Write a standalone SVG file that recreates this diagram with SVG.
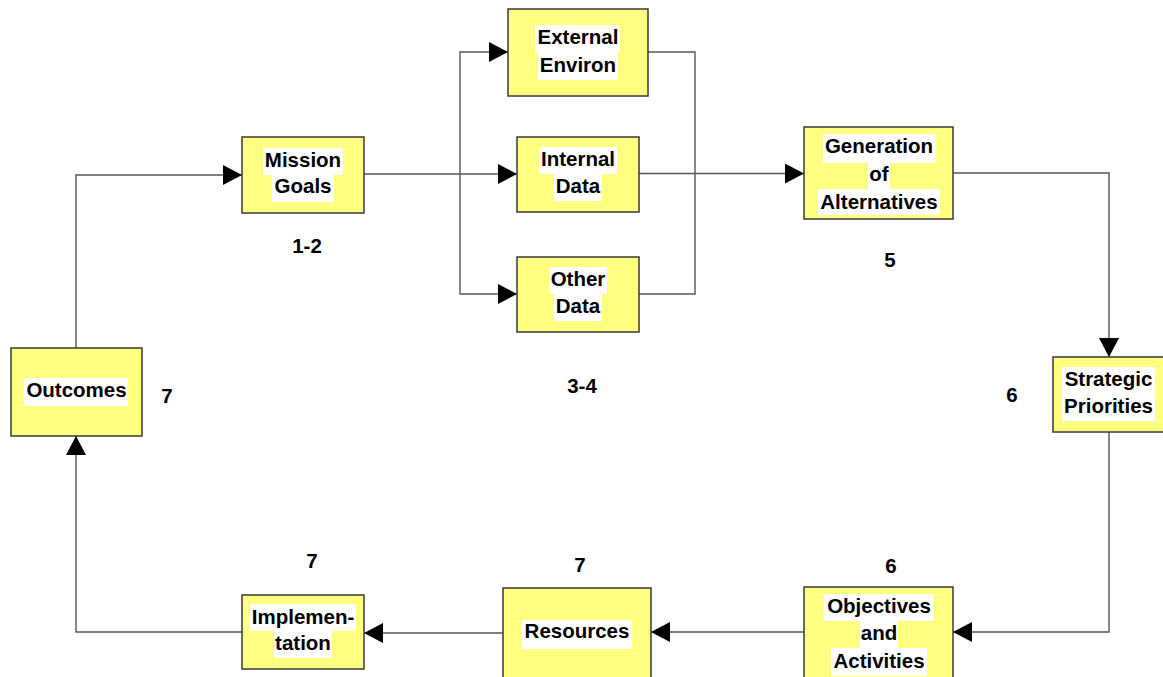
<svg xmlns="http://www.w3.org/2000/svg" width="1163" height="677" viewBox="0 0 1163 677">
<defs>
<style>
.box{fill:#FFFF80;stroke:#3a3a3a;stroke-width:1.5}
.hl{fill:#ffffff}
.t{font-family:"Liberation Sans",Arial,sans-serif;font-weight:bold;font-size:20.5px;fill:#000;text-anchor:middle}
.c{fill:none;stroke:#555;stroke-width:1.4}
</style>
<marker id="ah" viewBox="0 0 19 20" refX="19" refY="10" markerWidth="19" markerHeight="20" markerUnits="userSpaceOnUse" orient="auto">
<path d="M0,0 L19,10 L0,20 Z" fill="#000"/>
</marker>
</defs>
<rect width="1163" height="677" fill="#fff"/>
<g id="connectors">
<path class="c" d="M76,348 V175 H242" marker-end="url(#ah)"/>
<path class="c" d="M364,174 H517" marker-end="url(#ah)"/>
<path class="c" d="M460,174 V52 H508" marker-end="url(#ah)"/>
<path class="c" d="M460,174 V294 H517" marker-end="url(#ah)"/>
<path class="c" d="M648,52 H695 V294 H639"/>
<path class="c" d="M639,173.5 H804" marker-end="url(#ah)"/>
<path class="c" d="M953,173 H1109 V357" marker-end="url(#ah)"/>
<path class="c" d="M1109,432 V632 H953" marker-end="url(#ah)"/>
<path class="c" d="M804,632 H651" marker-end="url(#ah)"/>
<path class="c" d="M503,633 H364" marker-end="url(#ah)"/>
<path class="c" d="M242,632 H76 V436" marker-end="url(#ah)"/>
</g>
<g id="mission">
<rect class="box" x="242" y="137" width="122" height="76"/>
<rect class="hl" x="263" y="148" width="80" height="27"/>
<rect class="hl" x="272" y="175" width="62" height="27"/>
<text class="t" x="303" y="167">Mission</text>
<text class="t" x="303" y="193">Goals</text>
</g>
<g id="external">
<rect class="box" x="508" y="9" width="140" height="87"/>
<rect class="hl" x="535" y="25" width="85" height="27"/>
<rect class="hl" x="538" y="52" width="80" height="28"/>
<text class="t" x="578" y="44">External</text>
<text class="t" x="578" y="72">Environ</text>
</g>
<g id="internal">
<rect class="box" x="517" y="137" width="122" height="75"/>
<rect class="hl" x="539" y="147" width="78" height="27"/>
<rect class="hl" x="554" y="174" width="48" height="27"/>
<text class="t" x="578" y="166">Internal</text>
<text class="t" x="578" y="193">Data</text>
</g>
<g id="other">
<rect class="box" x="517" y="257" width="122" height="75"/>
<rect class="hl" x="549" y="267" width="58" height="27"/>
<rect class="hl" x="554" y="294" width="48" height="27"/>
<text class="t" x="578" y="286">Other</text>
<text class="t" x="578" y="313">Data</text>
</g>
<g id="generation">
<rect class="box" x="804" y="127" width="149" height="92"/>
<rect class="hl" x="823" y="134" width="113" height="29"/>
<rect class="hl" x="868" y="163" width="22" height="26"/>
<rect class="hl" x="818" y="189" width="122" height="26"/>
<text class="t" x="879" y="153">Generation</text>
<text class="t" x="879" y="181">of</text>
<text class="t" x="879" y="209">Alternatives</text>
</g>
<g id="strategic">
<rect class="box" x="1053" y="357" width="112" height="75"/>
<rect class="hl" x="1062" y="367" width="93" height="27"/>
<rect class="hl" x="1062" y="394" width="93" height="27"/>
<text class="t" x="1108.5" y="386">Strategic</text>
<text class="t" x="1108.5" y="413">Priorities</text>
</g>
<g id="outcomes">
<rect class="box" x="11" y="348" width="131" height="88"/>
<rect class="hl" x="24" y="378" width="104" height="28"/>
<text class="t" x="76.5" y="397">Outcomes</text>
</g>
<g id="implementation">
<rect class="box" x="242" y="595" width="122" height="74"/>
<rect class="hl" x="250" y="604" width="106" height="27"/>
<rect class="hl" x="274" y="631" width="58" height="27"/>
<text class="t" x="303" y="624">Implemen-</text>
<text class="t" x="303" y="650">tation</text>
</g>
<g id="resources">
<rect class="box" x="503" y="588" width="148" height="110"/>
<rect class="hl" x="522" y="620" width="110" height="29"/>
<text class="t" x="577" y="638">Resources</text>
</g>
<g id="objectives">
<rect class="box" x="804" y="587" width="149" height="110"/>
<rect class="hl" x="824" y="594" width="110" height="27"/>
<rect class="hl" x="860" y="621" width="38" height="27"/>
<rect class="hl" x="831" y="648" width="96" height="28"/>
<text class="t" x="879" y="613">Objectives</text>
<text class="t" x="879" y="640">and</text>
<text class="t" x="879" y="668">Activities</text>
</g>
<g id="labels">
<text class="t" x="307" y="253">1-2</text>
<text class="t" x="582" y="393">3-4</text>
<text class="t" x="890" y="267">5</text>
<text class="t" x="1012" y="402">6</text>
<text class="t" x="167" y="403">7</text>
<text class="t" x="312" y="568">7</text>
<text class="t" x="580" y="572">7</text>
<text class="t" x="891" y="573">6</text>
</g>
</svg>
